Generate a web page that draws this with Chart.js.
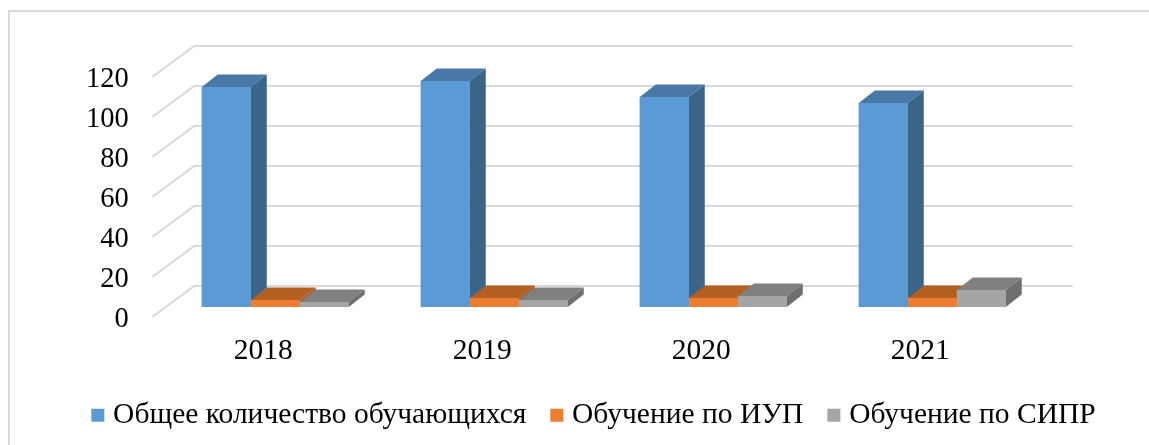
<!DOCTYPE html>
<html>
<head>
<meta charset="utf-8">
<script src="https://cdn.jsdelivr.net/npm/chart.js@4"></script>
<style>
  body { margin: 0; background: #fff; }
  #frame { position: absolute; left: 8px; top: 10px; width: 1141px; height: 435px; border-left: 2px solid #d9d9d9; border-top: 2px solid #d9d9d9; box-sizing: border-box; }
  #chart { position: absolute; left: 0; top: 0; }
</style>
</head>
<body>
<div id="frame"></div>
<canvas id="chart" width="1149" height="445"></canvas>
<script>
const years = ['2018', '2019', '2020', '2021'];
const totalStudents = [110, 113, 105, 102];
const iupStudents = [3.5, 4.5, 4.5, 4.5];
const siprStudents = [2.5, 3.5, 5.5, 8.5];

const names = ['Общее количество обучающихся', 'Обучение по ИУП', 'Обучение по СИПР'];
const fronts = ['#5b9bd5', '#ed7d31', '#a5a5a5'];
const tops = ['#4878a6', '#b45f22', '#808080'];
const sides = ['#3a6488', '#a5581f', '#6f6f6f'];

const serif = 'Liberation Serif';
const barDepth = { x: 16, y: -12.5 };

// floor and back wall of the fake 3d box, relative to the plane of the bars
const wallFront = { x: -13.5, y: 10 };
const wallBack = { x: 28.5, y: -21 };
const wallRight = 31;

const wallsPlugin = {
    id: 'walls',
    beforeDatasetsDraw(chart) {
        const { ctx, chartArea, scales } = chart;
        ctx.save();
        ctx.strokeStyle = '#d9d9d9';
        ctx.lineWidth = 2;
        scales.y.ticks.forEach(t => {
            const y = scales.y.getPixelForValue(t.value);
            ctx.beginPath();
            ctx.moveTo(chartArea.left + wallFront.x, y + wallFront.y);
            ctx.lineTo(chartArea.left + wallBack.x, y + wallBack.y);
            ctx.lineTo(chartArea.right + wallRight, y + wallBack.y);
            ctx.stroke();
        });
        ctx.restore();
    }
};

const face = (ctx, color, pts) => {
    ctx.fillStyle = color;
    ctx.beginPath();
    pts.forEach((p, i) => i ? ctx.lineTo(p[0], p[1]) : ctx.moveTo(p[0], p[1]));
    ctx.closePath();
    ctx.fill();
};

const depthPlugin = {
    id: 'depth',
    afterDatasetsDraw(chart) {
        const ctx = chart.ctx;
        const dx = barDepth.x, dy = barDepth.y;
        for (let c = 0; c < years.length; c++) {
            chart.data.datasets.forEach((ds, d) => {
                const bar = chart.getDatasetMeta(d).data[c];
                const l = bar.x - bar.width / 2, r = bar.x + bar.width / 2;
                face(ctx, tops[d], [[l, bar.y], [r, bar.y], [r + dx, bar.y + dy], [l + dx, bar.y + dy]]);
                face(ctx, sides[d], [[r, bar.y], [r + dx, bar.y + dy], [r + dx, bar.base + dy], [r, bar.base]]);
                // front again, the side of the bar before it runs behind this one
                bar.draw(ctx);
            });
        }
    }
};

// legend sits a bit right of centre and higher than chart.js puts it
const legendShift = {
    id: 'legendShift',
    afterLayout(chart) {
        const lg = chart.legend;
        lg.left += 22;
        lg.right += 22;
        lg.top -= 5;
        lg.bottom -= 5;
    }
};

new Chart(document.getElementById('chart').getContext('2d'), {
    type: 'bar',
    data: {
        labels: years,
        datasets: [
            { label: names[0], data: totalStudents, backgroundColor: fronts[0] },
            { label: names[1], data: iupStudents, backgroundColor: fronts[1] },
            { label: names[2], data: siprStudents, backgroundColor: fronts[2] }
        ]
    },
    plugins: [wallsPlugin, depthPlugin, legendShift],
    options: {
        responsive: false,
        animation: false,
        layout: { padding: { top: 67, left: 0, right: 0, bottom: 0 } },
        datasets: { bar: { categoryPercentage: 0.671, barPercentage: 1 } },
        plugins: {
            tooltip: { enabled: false },
            legend: {
                position: 'bottom',
                labels: {
                    color: '#000',
                    font: { family: serif, size: 29.5 },
                    padding: 30,
                    boxWidth: 1,
                    boxHeight: 1,
                    generateLabels(chart) {
                        return chart.data.datasets.map((ds, i) => ({
                            text: ds.label,
                            fillStyle: fronts[i],
                            strokeStyle: fronts[i],
                            lineWidth: 12,
                            datasetIndex: i
                        }));
                    }
                }
            }
        },
        scales: {
            x: {
                grid: { display: false },
                border: { display: false },
                ticks: { color: '#000', font: { family: serif, size: 29.5 }, padding: 19, labelOffset: -12, maxRotation: 0 },
                afterFit(scale) { scale.height = 445 - 307 - scale.chart.legend.height; }
            },
            y: {
                min: 0,
                max: 120,
                grid: { display: false },
                border: { display: false },
                ticks: { color: '#000', font: { family: serif, size: 28.5 }, stepSize: 20, padding: 29, labelOffset: 13 },
                afterFit(scale) { scale.width = 165.75; }
            },
            // empty axis only to hold the plot away from the right edge
            spacer: {
                type: 'linear',
                position: 'right',
                grid: { display: false },
                border: { display: false },
                ticks: { display: false },
                afterFit(scale) { scale.width = 107.25; }
            }
        }
    }
});
</script>
</body>
</html>
